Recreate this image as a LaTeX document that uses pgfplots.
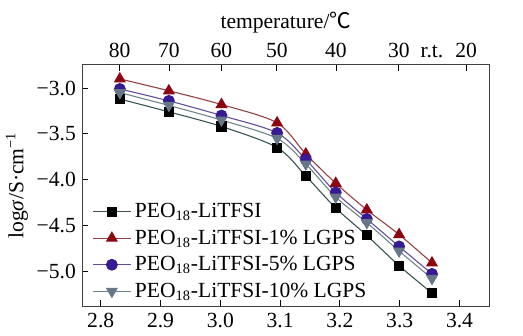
\documentclass[border=0pt]{standalone}
\usepackage{fontspec}
\setmainfont{Liberation Serif}
\newfontfamily\cjk{Noto Sans CJK SC}
\usepackage{pgfplots}
\pgfplotsset{compat=1.18}
\definecolor{cBlkL}{rgb}{0.22,0.32,0.32}
\definecolor{cRed}{rgb}{0.55,0.02,0.06}
\definecolor{cRedL}{rgb}{0.58,0.25,0.25}
\definecolor{cBlu}{rgb}{0.22,0.10,0.58}
\definecolor{cBluL}{rgb}{0.38,0.30,0.62}
\definecolor{cGry}{rgb}{0.40,0.47,0.53}
\definecolor{cGryL}{rgb}{0.42,0.52,0.54}
\begin{document}
\begin{tikzpicture}
\pgfplotsset{
  common/.style={
    width=226.6pt, height=134.75pt, scale only axis,
    xmin=2.769, xmax=3.45,
    ymin=-5.385, ymax=-2.74,
    font=\rmfamily\fontsize{12}{14}\selectfont,
    tick label style={font=\rmfamily\fontsize{12}{14}\selectfont},
    /pgf/number format/assume math mode=true,
    tick style={black, line width=0.5pt},
    major tick length=3.5pt,
    tick align=inside,
  }
}
\begin{axis}[common,
  name=ax,
  axis line style={black!75, line width=0.7pt},
  xtick={2.8,2.9,3.0,3.1,3.2,3.3,3.4},
  xticklabels={2.8,2.9,3.0,3.1,3.2,3.3,3.4},
  xtick pos=bottom,
  ytick={-5.0,-4.5,-4.0,-3.5,-3.0},
  yticklabels={−5.0,−4.5,−4.0,−3.5,−3.0},
  ytick pos=left,
  ylabel={log\textit{σ}/S·cm\textsuperscript{−1}},
  ylabel style={yshift=-2pt},
  legend style={draw=none, fill=none, at={(0.02,0.45)}, anchor=north west,
    font=\rmfamily\fontsize{12}{14}\selectfont, row sep=1.3pt, inner sep=1pt},
  legend cell align=left,
  legend image code/.code={
    \draw[#1] (0pt,0pt) -- (21pt,0pt);
    \draw[#1, only marks] plot coordinates {(10.5pt,0pt)};
  },
]
\addplot[cBlkL, line width=0.6pt, smooth, mark=square*, mark size=2.5pt,
  mark options={fill=black, draw=black, solid}] coordinates {
  (2.832,-3.12) (2.914,-3.26) (3.002,-3.42) (3.095,-3.65) (3.143,-3.96)
  (3.193,-4.31) (3.245,-4.61) (3.299,-4.94) (3.354,-5.24)};
\addlegendentry{PEO\textsubscript{18}-LiTFSI}
\addplot[cRedL, line width=0.6pt, smooth, mark=triangle*, mark size=3.3pt,
  mark options={fill=cRed, draw=cRed, solid}] coordinates {
  (2.832,-2.90) (2.914,-3.03) (3.002,-3.18) (3.095,-3.38) (3.143,-3.72)
  (3.193,-4.04) (3.245,-4.33) (3.299,-4.60) (3.354,-4.91)};
\addlegendentry{PEO\textsubscript{18}-LiTFSI-1\% LGPS}
\addplot[cBluL, line width=0.6pt, smooth, mark=*, mark size=3pt,
  mark options={fill=cBlu, draw=cBlu, solid}] coordinates {
  (2.832,-3.01) (2.914,-3.14) (3.002,-3.30) (3.095,-3.49) (3.143,-3.78)
  (3.193,-4.14) (3.245,-4.43) (3.299,-4.73) (3.354,-5.03)};
\addlegendentry{PEO\textsubscript{18}-LiTFSI-5\% LGPS}
\addplot[cGryL, line width=0.6pt, smooth, mark=triangle*, mark size=3.3pt,
  mark options={fill=cGry, draw=cGry, solid, rotate=180}] coordinates {
  (2.832,-3.05) (2.914,-3.19) (3.002,-3.35) (3.095,-3.55) (3.143,-3.83)
  (3.193,-4.19) (3.245,-4.47) (3.299,-4.78) (3.354,-5.08)};
\addlegendentry{PEO\textsubscript{18}-LiTFSI-10\% LGPS}
\end{axis}
\begin{axis}[common,
  axis x line*=top,
  axis y line=none,
  axis line style={black!75, line width=0.7pt},
  xtick={2.8317,2.9142,3.0017,3.0945,3.1934,3.2987,3.4112},
  xticklabels={80,70,60,50,40,30,20},
  extra x ticks={3.354},
  extra x tick labels={r.t.},
  extra x tick style={major tick length=0pt},
  xlabel={temperature/{\cjk ℃}},
  xlabel style={yshift=-1pt},
]
\end{axis}
\path[use as bounding box] ([shift={(-42.35pt,-15.95pt)}]ax.south west) rectangle ([shift={(18.7pt,35.75pt)}]ax.north east);
\end{tikzpicture}
\end{document}
